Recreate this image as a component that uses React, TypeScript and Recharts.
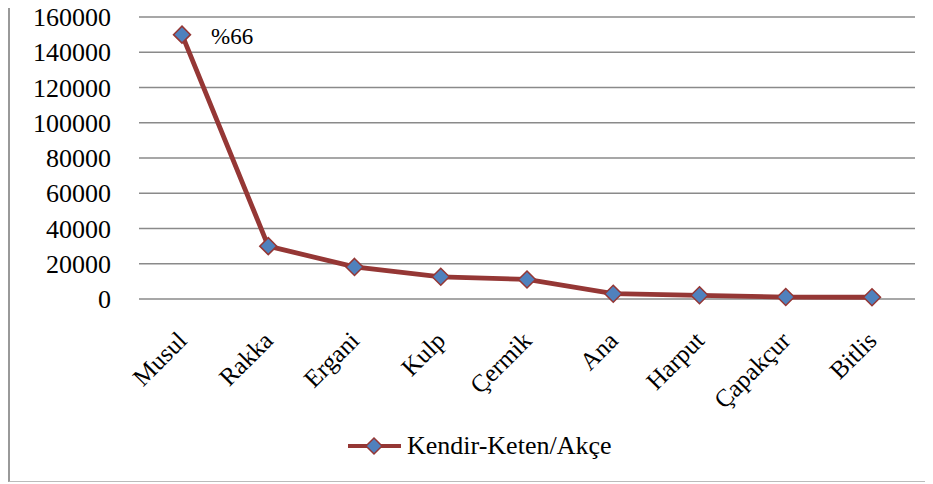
import React from "react";
import { LineChart, Line, XAxis, YAxis, CartesianGrid, Legend, LabelList } from "recharts";

const categories = ["Musul", "Rakka", "Ergani", "Kulp", "Çermik", "Ana", "Harput", "Çapakçur", "Bitlis"];
const values = [150000, 30000, 18200, 12600, 11100, 3000, 2100, 1100, 1000];
const yTicks = [0, 20000, 40000, 60000, 80000, 100000, 120000, 140000, 160000];
const seriesName = "Kendir-Keten/Akçe";
const pointLabels = ["%66", "", "", "", "", "", "", "", ""];

const data = categories.map((c, i) => ({ name: c, value: values[i], label: pointLabels[i] }));

const FONT = "'Liberation Serif', Tinos, serif";
const LINE = "#953735";
const FILL = "#4F81BD";

const Diamond = (props: any) => {
  const { cx, cy } = props;
  if (cx == null || cy == null) return null;
  const r = 8.5;
  return (
    <polygon
      points={`${cx},${cy - r} ${cx + r},${cy} ${cx},${cy + r} ${cx - r},${cy}`}
      fill={FILL}
      stroke={LINE}
      strokeWidth={1.5}
    />
  );
};

const XTick = (props: any) => {
  const { x, y, payload } = props;
  return (
    <g transform={`translate(${x},${y + 37})`}>
      <text x={0} y={0} dy="0.35em" textAnchor="end" transform="rotate(-45)" fontFamily={FONT} fontSize={25} fill="#000">
        {payload.value}
      </text>
    </g>
  );
};

const YTick = (props: any) => {
  const { x, y, payload } = props;
  return (
    <text x={x} y={y} dy="0.35em" textAnchor="end" fontFamily={FONT} fontSize={26} fill="#000">
      {payload.value}
    </text>
  );
};

const PointLabel = (props: any) => {
  const { x, y, value } = props;
  if (!value) return null;
  return (
    <text x={x + 29} y={y + 2} dominantBaseline="central" fontFamily={FONT} fontSize={23} fill="#000">
      {value}
    </text>
  );
};

const LegendContent = () => (
  <div style={{ display: "flex", alignItems: "center", height: 30 }}>
    <svg width={56} height={30}>
      <line x1={1} y1={15} x2={54} y2={15} stroke={LINE} strokeWidth={4} />
      <polygon points="27,7 35,15 27,23 19,15" fill={FILL} stroke={LINE} strokeWidth={1.5} />
    </svg>
    <span style={{ fontFamily: FONT, fontSize: 26, color: "#000", marginLeft: 4, whiteSpace: "nowrap" }}>
      {seriesName}
    </span>
  </div>
);

export default function App() {
  return (
    <div>
      <div style={{ position: "relative", width: 933, height: 484, marginLeft: -8, marginTop: -8, background: "#fff", overflow: "hidden" }}>
        <div
          style={{
            position: "absolute",
            left: 8,
            top: 3,
            width: 940,
            height: 479,
            borderLeft: "2.5px solid #999",
            borderTop: "2px solid #999",
            borderBottom: "1px solid #bbb",
            boxSizing: "border-box",
          }}
        />
        <LineChart
          width={933}
          height={484}
          data={data}
          margin={{ top: 17, right: 18, left: 0, bottom: 35 }}
          style={{ position: "absolute", left: 0, top: 0 }}
        >
          <CartesianGrid vertical={false} stroke="#8a8a8a" strokeWidth={1.5} />
          <XAxis
            dataKey="name"
            axisLine={false}
            tickLine={false}
            tickSize={0}
            tickMargin={0}
            height={120}
            interval={0}
            padding={{ left: 43, right: 43 }}
            tick={<XTick />}
          />
          <YAxis
            domain={[0, 160000]}
            ticks={yTicks}
            interval={0}
            axisLine={false}
            tickLine={false}
            tickSize={0}
            tickMargin={28}
            width={139}
            tick={<YTick />}
          />
          <Legend
            verticalAlign="bottom"
            content={<LegendContent />}
            wrapperStyle={{ left: 347, top: 431, width: 320, height: 30 }}
          />
          <Line
            type="linear"
            dataKey="value"
            name={seriesName}
            stroke={LINE}
            strokeWidth={4.8}
            dot={<Diamond />}
            activeDot={false}
            isAnimationActive={false}
          >
            <LabelList dataKey="label" content={<PointLabel />} />
          </Line>
        </LineChart>
      </div>
    </div>
  );
}
